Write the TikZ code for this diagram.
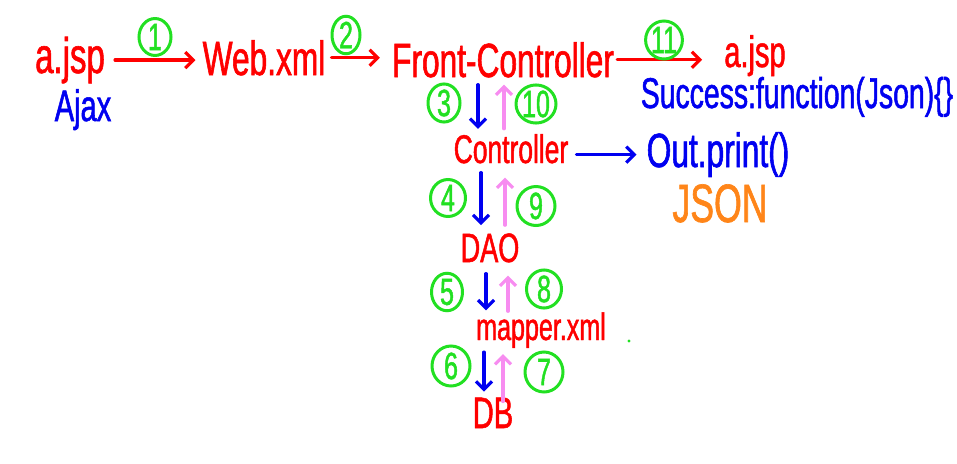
\documentclass[tikz,border=0pt]{standalone}
\usepackage{fontspec}
\setmainfont{Liberation Sans}[FakeStretch=0.66,FakeBold=1.2]
\usetikzlibrary{arrows.meta,shapes.geometric}
\definecolor{hred}{HTML}{FF0000}
\definecolor{hblue}{HTML}{0000F0}
\definecolor{hgreen}{HTML}{22E022}
\definecolor{hpink}{HTML}{F78CF0}
\definecolor{horange}{HTML}{FF8519}
\newcommand{\fs}[1]{\fontsize{#1}{#1}\selectfont}
\tikzset{
  txt/.style={inner sep=0pt,anchor=base},
  num/.style={draw=hgreen,text=hgreen,line width=3pt,ellipse,inner sep=0pt,font=\fs{38}},
  go/.style={-{Straight Barb[length=8pt,width=16pt]},line width=3.2pt,line cap=round}
}

\begin{document}
\begin{tikzpicture}[x=1pt,y=-1pt]
  \useasboundingbox (0,0) rectangle (957,463);
  % top row: page -> web.xml -> front controller -> page
  \node[txt,hred,font=\fs{50}] (jsp1) at (70,73) {a.jsp};
  \node[txt,hblue,font=\fs{44}] (ajax) at (83,121) {Ajax};
  \node[txt,hred,font=\fs{48}] (web) at (264,75) {Web.xml};
  \node[txt,hred,font=\fs{48}] (fc) at (503,77) {Front-Controller};
  \node[txt,hred,font=\fs{44}] (jsp2) at (755,67) {a.jsp};
  \node[txt,hblue,font=\fs{43}] (succ) at (797,108) {Success:function(Json)\{\}};
  % the layers below
  \node[txt,hred,font=\fs{40}] (ctl) at (511,163) {Controller};
  \node[txt,hblue,font=\fs{48}] (out) at (718,167) {Out.print()};
  \node[txt,horange,font=\fs{54}] (json) at (720,222) {JSON};
  \node[txt,hred,font=\fs{41}] (dao) at (490,262) {DAO};
  \node[txt,hred,font=\fs{38}] (mapper) at (541,340) {mapper.xml};
  \node[txt,hred,font=\fs{44}] (db) at (493,428) {DB};
  \fill[hgreen] (629,341) circle (1.6);

  % horizontal arrows
  \draw[go,hred,shorten <=10pt,shorten >=7pt] (jsp1.east) -- (jsp1.east -| web.west);
  \draw[go,hred,shorten <=6pt,shorten >=12pt] (web.east) -- (web.east -| fc.west);
  \draw[go,hred,shorten <=3pt,shorten >=22pt] (fc.east) -- (fc.east -| jsp2.west);
  \draw[go,hblue,shorten <=8pt,shorten >=10pt] ([yshift=-6pt]ctl.east) -- ([yshift=-6pt]ctl.east -| out.west);

  % requests go down, answers come back up
  \draw[go,hblue,shorten <=7pt,shorten >=5pt] ([xshift=-25pt]fc.south) -- ([xshift=-25pt]fc.south |- ctl.north);
  \draw[go,hpink,shorten <=5pt,shorten >=7pt] ([xshift=-7pt]ctl.north) -- ([xshift=-7pt]ctl.north |- fc.south);
  \draw[go,hblue,shorten <=9pt,shorten >=8pt] ([xshift=-30pt]ctl.south) -- ([xshift=-30pt]ctl.south |- dao.north);
  \draw[go,hpink,shorten <=8pt,shorten >=14pt] ([xshift=-6pt]ctl.south |- dao.north) -- ([xshift=-6pt]ctl.south);
  \draw[go,hblue,shorten <=11pt,shorten >=2pt] ([xshift=-4pt]dao.south) -- ([xshift=-4pt]dao.south |- mapper.north);
  \draw[go,hpink,shorten <=1pt,shorten >=13pt] ([xshift=18pt]dao.south |- mapper.north) -- ([xshift=18pt]dao.south);
  \draw[go,hblue,shorten <=4pt,shorten >=6pt] ([xshift=-9pt]mapper.south -| db.north) -- ([xshift=-9pt]db.north);
  \draw[go,hpink,shorten <=-4pt,shorten >=6pt] ([xshift=10pt]db.north) -- ([xshift=10pt]mapper.south -| db.north);

  % step numbers
  \node[num,minimum width=32pt,minimum height=31pt] (n1) at (155,37) {1};
  \node[num,minimum width=28pt,minimum height=28pt] (n2) at (346,35) {2};
  \node[num,minimum width=36pt,minimum height=38pt] (n11) at (664,40) {11};
  \node[num,minimum width=32pt,minimum height=33pt] (n3) at (444,103) {3};
  \node[num,minimum width=40pt,minimum height=34pt] (n10) at (536,104) {10};
  \node[num,minimum width=35pt,minimum height=37pt] (n4) at (448,198) {4};
  \node[num,minimum width=38pt,minimum height=39pt] (n9) at (536,206) {9};
  \node[num,minimum width=31pt,minimum height=32pt] (n5) at (447,292) {5};
  \node[num,minimum width=35pt,minimum height=34pt] (n8) at (544,289) {8};
  \node[num,minimum width=38pt,minimum height=40pt] (n6) at (451,366) {6};
  \node[num,minimum width=38pt,minimum height=40pt] (n7) at (544,372) {7};
\end{tikzpicture}
\end{document}
